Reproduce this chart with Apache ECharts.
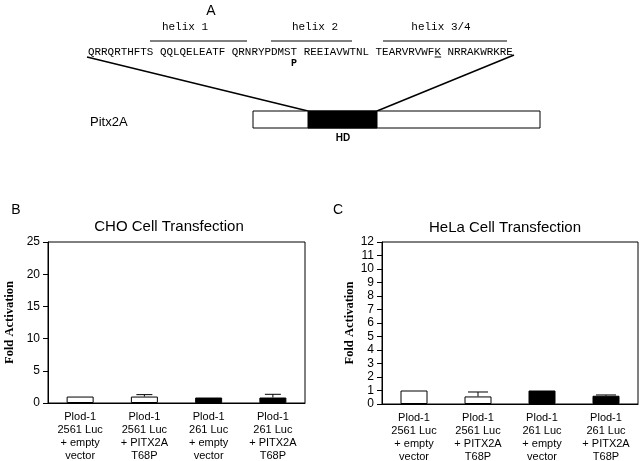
<!DOCTYPE html>
<html>
<head>
<meta charset="utf-8">
<script src="https://cdn.jsdelivr.net/npm/echarts@6/dist/echarts.min.js"></script>
<style>
  html, body { margin: 0; padding: 0; background: #fff; }
  #chart { width: 640px; height: 461px; }
</style>
</head>
<body>
<div id="chart"></div>
<script>
  // bar chart data
  var categories = [
    'Plod-1\n2561 Luc\n+ empty\nvector',
    'Plod-1\n2561 Luc\n+ PITX2A\nT68P',
    'Plod-1\n261 Luc\n+ empty\nvector',
    'Plod-1\n261 Luc\n+ PITX2A\nT68P'
  ]
  var barFills = ['#fff', '#fff', '#000', '#000']
  var choValues = [1.0, 1.0, 0.85, 0.85]
  var choErrors = [0, 0.3, 0, 0.5]
  var helaValues = [1.0, 0.56, 1.0, 0.61]
  var helaErrors = [0, 0.33, 0, 0.06]

  // panel A text
  var sequence = 'QRRQRTHFTS QQLQELEATF QRNRYPDMST REEIAVWTNL TEARVRVWFK NRRAKWRKRE'
  var helixLabels = ['helix 1', 'helix 2', 'helix 3/4']

  var seqX = 88
  var charW = 6.54
  var mono = '"Liberation Mono", "DejaVu Sans Mono", monospace'
  var sans = '"Liberation Sans", Arial, sans-serif'
  var serif = '"Liberation Serif", "Times New Roman", serif'

  function barData(values) {
    return values.map(function (v, i) {
      return { value: v, itemStyle: { color: barFills[i] } }
    })
  }

  function errorSeries(idx, values, errors, capW) {
    return {
      type: 'custom',
      xAxisIndex: idx,
      yAxisIndex: idx,
      data: values.map(function (v, i) { return [i, v, v + errors[i]] }),
      z: 5,
      renderItem: function (params, api) {
        if (api.value(2) <= api.value(1)) return
        var lo = api.coord([api.value(0), api.value(1)])
        var hi = api.coord([api.value(0), api.value(2)])
        var st = { stroke: '#000', lineWidth: 1 }
        return {
          type: 'group',
          children: [
            { type: 'line', shape: { x1: lo[0], y1: lo[1], x2: hi[0], y2: hi[1] }, style: st },
            { type: 'line', shape: { x1: hi[0] - capW / 2, y1: hi[1], x2: hi[0] + capW / 2, y2: hi[1] }, style: st }
          ]
        }
      }
    }
  }

  function xAxisCfg(idx) {
    return {
      type: 'category',
      gridIndex: idx,
      data: categories,
      axisLine: { lineStyle: { color: '#000', width: 1 } },
      axisTick: { show: false },
      axisLabel: {
        interval: 0, color: '#000', fontFamily: sans, fontSize: 11,
        lineHeight: 13, margin: 7
      }
    }
  }

  function yAxisCfg(idx, max, interval, gap) {
    return {
      type: 'value',
      gridIndex: idx,
      min: 0,
      max: max,
      interval: interval,
      name: 'Fold Activation',
      nameLocation: 'middle',
      nameRotate: 90,
      nameGap: gap,
      nameTextStyle: { fontFamily: serif, fontWeight: 'bold', fontSize: 12.5, color: '#000' },
      axisLine: { show: true, lineStyle: { color: '#000', width: 1 } },
      axisTick: { show: true, length: 5, lineStyle: { color: '#000' } },
      axisLabel: { color: '#000', fontFamily: sans, fontSize: 12, margin: 8 },
      splitLine: { show: false }
    }
  }

  var graphics = []
  // panel letters
  graphics.push({ type: 'text', x: 211, y: 11, style: { text: 'A', font: '14px ' + sans, fill: '#000', align: 'center', verticalAlign: 'middle' } })
  graphics.push({ type: 'text', x: 16, y: 210, style: { text: 'B', font: '14px ' + sans, fill: '#000', align: 'center', verticalAlign: 'middle' } })
  graphics.push({ type: 'text', x: 338, y: 210, style: { text: 'C', font: '14px ' + sans, fill: '#000', align: 'center', verticalAlign: 'middle' } })

  // helix labels and overlines
  var helixCenters = [185, 315, 441]
  var helixSpans = [[150, 247], [271, 352], [383, 507]]
  helixLabels.forEach(function (h, i) {
    graphics.push({ type: 'text', x: helixCenters[i], y: 27, style: { text: h, font: '11px ' + mono, fill: '#000', align: 'center', verticalAlign: 'middle' } })
    graphics.push({ type: 'line', shape: { x1: helixSpans[i][0], y1: 41, x2: helixSpans[i][1], y2: 41 }, style: { stroke: '#000', lineWidth: 1 } })
  })

  // sequence
  graphics.push({ type: 'text', x: seqX, y: 52, style: { text: sequence, font: '10.9px ' + mono, fill: '#000', align: 'left', verticalAlign: 'middle' } })
  var kIdx = sequence.indexOf('WFK') + 2
  graphics.push({ type: 'line', shape: { x1: seqX + kIdx * charW, y1: 57, x2: seqX + (kIdx + 1) * charW, y2: 57 }, style: { stroke: '#000', lineWidth: 1 } })
  var tIdx = sequence.indexOf('DMST') + 3
  graphics.push({ type: 'text', x: seqX + (tIdx + 0.5) * charW, y: 63, style: { text: 'P', font: 'bold 10px ' + mono, fill: '#000', align: 'center', verticalAlign: 'middle' } })

  // protein diagram
  graphics.push({ type: 'line', shape: { x1: 87, y1: 57, x2: 308, y2: 111 }, style: { stroke: '#000', lineWidth: 1.5 } })
  graphics.push({ type: 'line', shape: { x1: 514, y1: 55, x2: 377, y2: 111 }, style: { stroke: '#000', lineWidth: 1.5 } })
  graphics.push({ type: 'rect', shape: { x: 253, y: 111, width: 287, height: 17 }, style: { fill: '#fff', stroke: '#000', lineWidth: 1 } })
  graphics.push({ type: 'rect', shape: { x: 308, y: 111, width: 69, height: 17 }, style: { fill: '#000', stroke: '#000', lineWidth: 1 } })
  graphics.push({ type: 'text', x: 90, y: 122, style: { text: 'Pitx2A', font: '13px ' + sans, fill: '#000', align: 'left', verticalAlign: 'middle' } })
  graphics.push({ type: 'text', x: 343, y: 138, style: { text: 'HD', font: 'bold 10px ' + sans, fill: '#000', align: 'center', verticalAlign: 'middle' } })

  var chart = echarts.init(document.getElementById('chart'))
  chart.setOption({
    animation: false,
    backgroundColor: '#fff',
    title: [
      { text: 'CHO Cell Transfection', left: 164, top: 214, textAlign: 'center',
        textStyle: { fontFamily: sans, fontWeight: 'normal', fontSize: 15, color: '#000' } },
      { text: 'HeLa Cell Transfection', left: 500, top: 215, textAlign: 'center',
        textStyle: { fontFamily: sans, fontWeight: 'normal', fontSize: 15, color: '#000' } }
    ],
    grid: [
      { left: 48, top: 242, width: 257, height: 161, show: true, borderColor: '#000', borderWidth: 1,
        containLabel: false, outerBoundsMode: 'none' },
      { left: 382, top: 242, width: 256, height: 162, show: true, borderColor: '#000', borderWidth: 1,
        containLabel: false, outerBoundsMode: 'none' }
    ],
    xAxis: [xAxisCfg(0), xAxisCfg(1)],
    yAxis: [yAxisCfg(0, 25, 5, 32), yAxisCfg(1, 12, 1, 26)],
    graphic: graphics,
    series: [
      { type: 'bar', xAxisIndex: 0, yAxisIndex: 0, barWidth: 27, data: barData(choValues),
        itemStyle: { borderColor: '#000', borderWidth: 1 } },
      errorSeries(0, choValues, choErrors, 16),
      { type: 'bar', xAxisIndex: 1, yAxisIndex: 1, barWidth: 27, data: barData(helaValues),
        itemStyle: { borderColor: '#000', borderWidth: 1 } },
      errorSeries(1, helaValues, helaErrors, 20)
    ]
  })
</script>
</body>
</html>
